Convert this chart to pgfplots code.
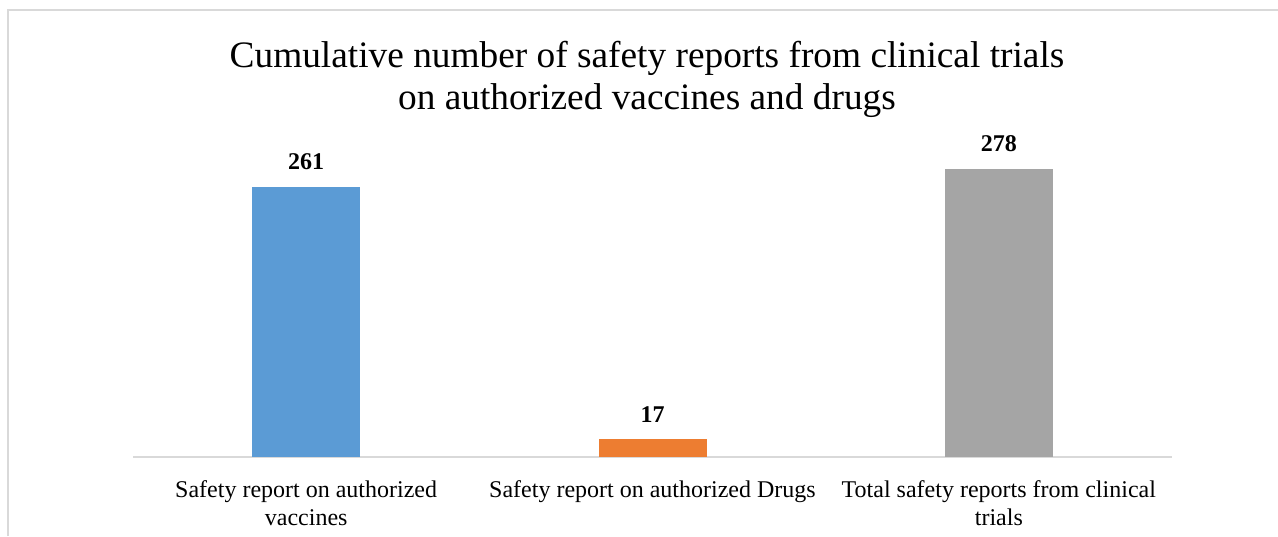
\documentclass[border=0pt]{standalone}
\usepackage{fontspec}
\setmainfont{Liberation Serif}
\usepackage{pgfplots}
\pgfplotsset{compat=1.18}
\definecolor{barblue}{HTML}{5B9BD5}
\definecolor{barorange}{HTML}{ED7D31}
\definecolor{bargray}{HTML}{A5A5A5}
\definecolor{linegray}{HTML}{D9D9D9}
\begin{document}
\begin{tikzpicture}[x=0.75pt,y=0.75pt]
\path[use as bounding box] (0,0) rectangle (1278,536);
\draw[linegray, line width=1.2pt] (8,0) -- (8,526) -- (1278,526);
\node[anchor=base, inner sep=0pt, font=\fontsize{28}{32}\selectfont] at (647,468)
  {Cumulative number of safety reports from clinical trials};
\node[anchor=base, inner sep=0pt, font=\fontsize{28}{32}\selectfont] at (647,426)
  {on authorized vaccines and drugs};
\begin{axis}[
  at={(99.75pt,59.25pt)}, anchor=south west,
  width=779.25pt, height=232.875pt, scale only axis,
  xmin=-0.5, xmax=2.5, ymin=0, ymax=300,
  axis y line=none,
  axis x line*=bottom,
  x axis line style={draw=linegray, line width=1.1pt, -},
  xtick={0,1,2},
  xticklabels={{Safety report on authorized\\vaccines},
               {Safety report on authorized Drugs},
               {Total safety reports from clinical\\trials}},
  xtick style={draw=none},
  xticklabel style={align=center, inner sep=0pt, yshift=-13pt,
    font=\fontsize{18}{21}\selectfont},
  ybar, bar width=81pt, bar shift=0pt,
  /pgf/number format/assume math mode=true,
  nodes near coords={\pgfmathprintnumber{\pgfplotspointmeta}},
  every node near coord/.append style={anchor=south, inner sep=0pt, yshift=12.75pt,
    font=\bfseries\fontsize{18}{21}\selectfont, text=black},
  clip=false,
]
\addplot[fill=barblue, draw=none] coordinates {(0,261)};
\addplot[fill=barorange, draw=none] coordinates {(1,17)};
\addplot[fill=bargray, draw=none] coordinates {(2,278)};
\end{axis}
\end{tikzpicture}
\end{document}
